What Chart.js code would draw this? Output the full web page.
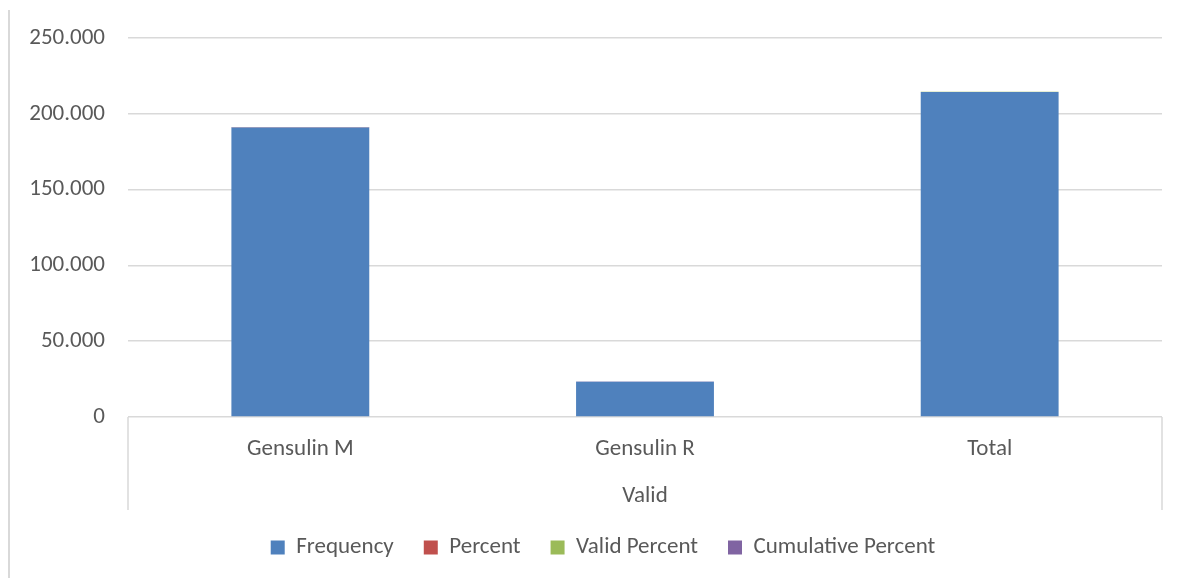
<!DOCTYPE html>
<html>
<head>
<meta charset="utf-8">
<script src="https://cdn.jsdelivr.net/npm/chart.js@4/dist/chart.umd.min.js"></script>
<style>
  html, body { margin: 0; padding: 0; background: #ffffff; }
  #wrap { width: 1184px; height: 578px; position: relative; }
</style>
</head>
<body>
<div id="wrap"><canvas id="c" width="1184" height="578"></canvas></div>
<script>
const categories = ["Gensulin M", "Gensulin R", "Total"];
const groupLabel = "Valid";
const frequency = [191000, 23300, 214300];
const percent = [89.3, 10.7, 100];
const validPercent = [89.3, 10.7, 100];
const cumulativePercent = [89.3, 100, null];
const seriesNames = ["Frequency", "Percent", "Valid Percent", "Cumulative Percent"];
const seriesColors = ["#4F81BD", "#C0504D", "#9BBB59", "#8064A2"];
const yMax = 250000;
const yStep = 50000;

const FONT = "Carlito, Lato, 'Liberation Sans', sans-serif";
const FS = 23;
const TEXT = "#595959";
const GRID = "#d9d9d9";

function fmt(v) {
  return String(Math.round(v)).replace(/\B(?=(\d{3})+(?!\d))/g, ".");
}

const framePlugin = {
  id: "frame",
  afterLayout(chart) {
    if (chart.legend) chart.legend.left += 44;
  },
  afterDraw(chart) {
    const ctx = chart.ctx;
    const a = chart.chartArea;
    ctx.save();
    ctx.strokeStyle = GRID;
    ctx.lineWidth = 2;
    ctx.beginPath();
    ctx.moveTo(9, 10);
    ctx.lineTo(9, 578);
    ctx.stroke();
    ctx.lineWidth = 1.5;
    ctx.beginPath();
    ctx.moveTo(a.left, a.bottom);
    ctx.lineTo(a.left, 510);
    ctx.moveTo(a.right, a.bottom);
    ctx.lineTo(a.right, 510);
    ctx.stroke();
    ctx.restore();
  }
};

const data = {
  labels: categories,
  datasets: [frequency, percent, validPercent, cumulativePercent].map((vals, i) => ({
    label: seriesNames[i],
    data: vals,
    backgroundColor: seriesColors[i],
    borderWidth: 0,
    categoryPercentage: 1.0,
    barPercentage: 0.4
  }))
};

new Chart(document.getElementById("c"), {
  type: "bar",
  data,
  plugins: [framePlugin],
  options: {
    responsive: false,
    animation: false,
    devicePixelRatio: 1,
    layout: { padding: { top: 38, right: 22, bottom: 9, left: 0 } },
    plugins: {
      tooltip: { enabled: false },
      legend: {
        position: "bottom",
        labels: {
          font: { family: FONT, size: FS },
          color: TEXT,
          boxWidth: 14,
          boxHeight: 14,
          padding: 30
        }
      }
    },
    scales: {
      x: {
        stacked: true,
        grid: { display: false, drawTicks: false },
        border: { display: false },
        ticks: { font: { family: FONT, size: FS }, color: TEXT, padding: 18 },
        title: {
          display: true,
          text: groupLabel,
          font: { family: FONT, size: FS, lineHeight: 1 },
          color: TEXT,
          padding: { top: 0, bottom: -2 }
        },
        afterFit(scale) { scale.height = 89; }
      },
      y: {
        stacked: true,
        min: 0,
        max: yMax,
        grid: { color: GRID, lineWidth: 1.5, drawTicks: false },
        border: { display: false },
        ticks: {
          stepSize: yStep,
          font: { family: FONT, size: FS },
          color: TEXT,
          padding: 23,
          callback: (v) => fmt(v)
        },
        afterFit(scale) { scale.width = 128; }
      }
    }
  }
});
</script>
</body>
</html>
